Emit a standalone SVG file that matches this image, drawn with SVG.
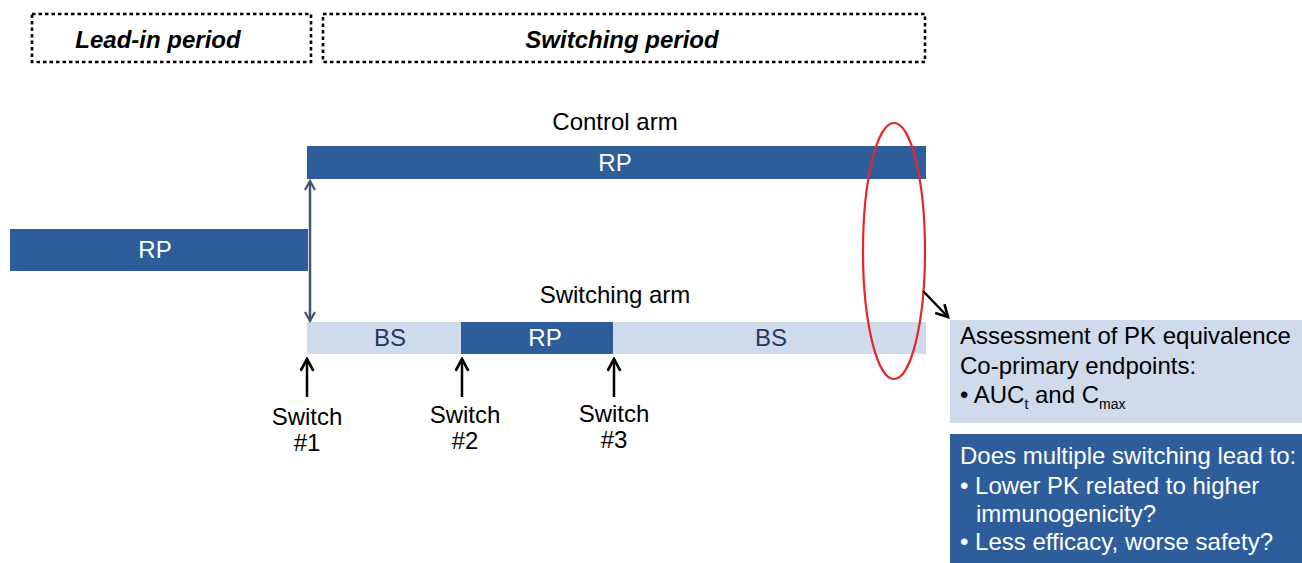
<svg xmlns="http://www.w3.org/2000/svg" width="1302" height="563" viewBox="0 0 1302 563">
<style>
text{font-family:"Liberation Sans",Arial,sans-serif;}
.hdr{font-size:24px;font-weight:bold;font-style:italic;fill:#000;text-anchor:middle;}
.dash{fill:none;stroke:#000;stroke-width:2.6;stroke-dasharray:3.5 3;}
.dark{fill:#2e5d9c;}
.light{fill:#cfdaeb;}
.wt{font-size:24px;fill:#fff;text-anchor:middle;}
.bt{font-size:24px;fill:#1f3864;text-anchor:middle;}
.lbl{font-size:24px;fill:#000;text-anchor:middle;}
.box{font-size:24px;}
</style>
<defs>
<marker id="open" viewBox="0 0 12 12" refX="10" refY="6" markerWidth="12" markerHeight="12" markerUnits="userSpaceOnUse" orient="auto-start-reverse">
<path d="M1,1 L10,6 L1,11" fill="none" stroke="context-stroke" stroke-width="2.2"/>
</marker>
<marker id="openK" viewBox="0 0 14 14" refX="12" refY="7" markerWidth="15" markerHeight="15" markerUnits="userSpaceOnUse" orient="auto">
<path d="M1,1 L12,7 L1,13" fill="none" stroke="#000" stroke-width="2.5"/>
</marker>
</defs>

<g id="lead-in-period">
<rect class="dash" x="32" y="14" width="279" height="48"/>
<text class="hdr" x="158" y="48">Lead-in period</text>
</g>
<g id="switching-period">
<rect class="dash" x="323" y="14" width="602" height="48"/>
<text class="hdr" x="622" y="48">Switching period</text>
</g>

<g id="control-arm">
<text class="lbl" x="615" y="130">Control arm</text>
<rect class="dark" x="307" y="146" width="619" height="33"/>
<text class="wt" x="615" y="171">RP</text>
</g>

<g id="lead-in-rp">
<rect class="dark" x="10" y="229" width="298" height="42"/>
<text class="wt" x="155" y="258">RP</text>
</g>

<g id="switching-arm">
<text class="lbl" x="615" y="303">Switching arm</text>
<rect class="light" x="307" y="322" width="619" height="32"/>
<rect class="dark" x="461" y="322" width="152" height="32"/>
<text class="bt" x="390" y="346">BS</text>
<text class="wt" x="545" y="346">RP</text>
<text class="bt" x="771" y="346">BS</text>
</g>

<g id="switch-1">
<text class="lbl" x="307" y="425">Switch</text>
<text class="lbl" x="307" y="451">#1</text>
</g>
<g id="switch-2">
<text class="lbl" x="465" y="423">Switch</text>
<text class="lbl" x="465" y="449">#2</text>
</g>
<g id="switch-3">
<text class="lbl" x="614" y="422">Switch</text>
<text class="lbl" x="614" y="448">#3</text>
</g>

<g id="highlight">
<ellipse cx="894" cy="251" rx="31" ry="128" fill="none" stroke="#e8262a" stroke-width="2.2"/>
</g>

<g id="pk-box">
<rect class="light" x="950" y="320" width="352" height="103"/>
<text class="box" x="960" y="344">Assessment of PK equivalence</text>
<text class="box" x="960" y="374">Co-primary endpoints:</text>
<text class="box" x="960" y="403">• AUC<tspan font-size="14" dy="6">t</tspan><tspan dy="-6"> and C</tspan><tspan font-size="14" dy="6">max</tspan></text>
</g>

<g id="question-box">
<rect class="dark" x="950" y="434" width="352" height="129"/>
<text class="box" x="960" y="464" fill="#fff">Does multiple switching lead to:</text>
<text class="box" x="960" y="494" fill="#fff">• Lower PK related to higher</text>
<text class="box" x="976" y="522" fill="#fff">immunogenicity?</text>
<text class="box" x="960" y="550" fill="#fff">• Less efficacy, worse safety?</text>
</g>

<g id="connectors">
<line x1="310" y1="181" x2="310" y2="321" stroke="#44546a" stroke-width="2.5" marker-start="url(#open)" marker-end="url(#open)"/>
<line x1="307" y1="397" x2="307" y2="359" stroke="#000" stroke-width="2.5" marker-end="url(#openK)"/>
<line x1="462" y1="397" x2="462" y2="359" stroke="#000" stroke-width="2.5" marker-end="url(#openK)"/>
<line x1="614" y1="397" x2="614" y2="359" stroke="#000" stroke-width="2.5" marker-end="url(#openK)"/>
<line x1="923" y1="291" x2="948" y2="317" stroke="#000" stroke-width="2.5" marker-end="url(#openK)"/>
</g>
</svg>
